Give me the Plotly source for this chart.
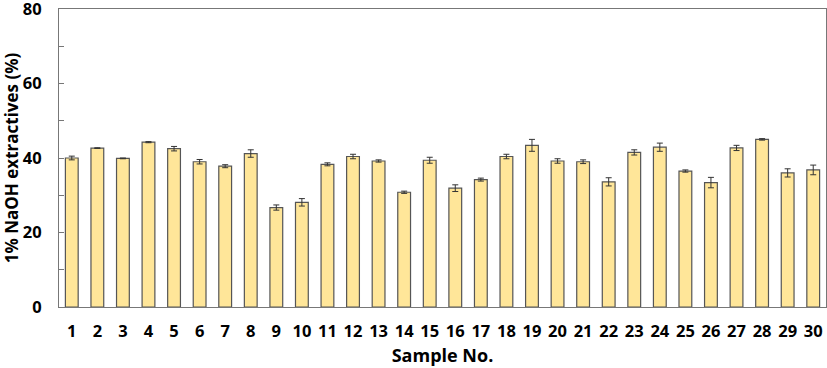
import plotly.graph_objects as go

samples = list(range(1, 31))
values = [40.0, 42.65, 39.9, 44.25, 42.5, 39.0, 37.8, 41.2, 26.7, 28.1,
          38.3, 40.4, 39.2, 30.8, 39.4, 31.9, 34.2, 40.4, 43.4, 39.2,
          39.0, 33.6, 41.5, 42.9, 36.5, 33.4, 42.7, 45.0, 36.0, 36.8]
errors = [0.5, 0.1, 0.1, 0.15, 0.6, 0.6, 0.4, 1.0, 0.7, 1.0,
          0.4, 0.6, 0.3, 0.3, 0.8, 0.9, 0.4, 0.6, 1.6, 0.6,
          0.5, 1.1, 0.7, 1.1, 0.3, 1.4, 0.7, 0.2, 1.1, 1.3]

FONT = "Open Sans"

fig = go.Figure()
fig.add_trace(go.Bar(
    x=samples, y=values, width=0.5,
    marker=dict(color="#FFE699", line=dict(color="#555555", width=1.2)),
    error_y=dict(type="data", array=errors, visible=True,
                 color="#333333", thickness=1, width=3),
))

fig.update_layout(
    width=827, height=368,
    margin=dict(l=59, r=1, t=9, b=61, autoexpand=False),
    plot_bgcolor="white", paper_bgcolor="white",
    showlegend=False,
    font=dict(family=FONT, color="black"),
    xaxis=dict(
        range=[0.5, 30.5], tickmode="array", tickvals=samples,
        ticktext=[f"<b>{s}</b>" for s in samples],
        tickfont=dict(size=16.5, family=FONT),
        showline=True, mirror=True, linecolor="#777777", linewidth=1.2,
        ticks="", showgrid=False, zeroline=False, ticklabelstandoff=9,
        ticklabeloverflow="allow",
        title=dict(text="<b>Sample No.</b>", font=dict(size=18, family=FONT), standoff=8),
        automargin=False,
    ),
    yaxis=dict(
        range=[0, 80], tickmode="array", tickvals=[0, 20, 40, 60, 80],
        ticktext=["<b>0</b>", "<b>20</b>", "<b>40</b>", "<b>60</b>", "<b>80</b>"],
        tickfont=dict(size=16.5, family=FONT),
        showline=True, mirror=True, linecolor="#777777", linewidth=1.2,
        ticks="inside", ticklen=5, tickcolor="#777777",
        minor=dict(tickvals=[10, 30, 50, 70], ticks="inside", ticklen=5, tickcolor="#777777"),
        showgrid=False, zeroline=False, ticklabelstandoff=13,
        ticklabeloverflow="allow",
        title=dict(text="<b>1% NaOH extractives (%)</b>", font=dict(size=17, family=FONT), standoff=5),
        automargin=False,
    ),
)

fig.write_html("out.html", config={"displayModeBar": False},
               post_script="document.body.style.margin='0';document.body.style.overflow='hidden';")
